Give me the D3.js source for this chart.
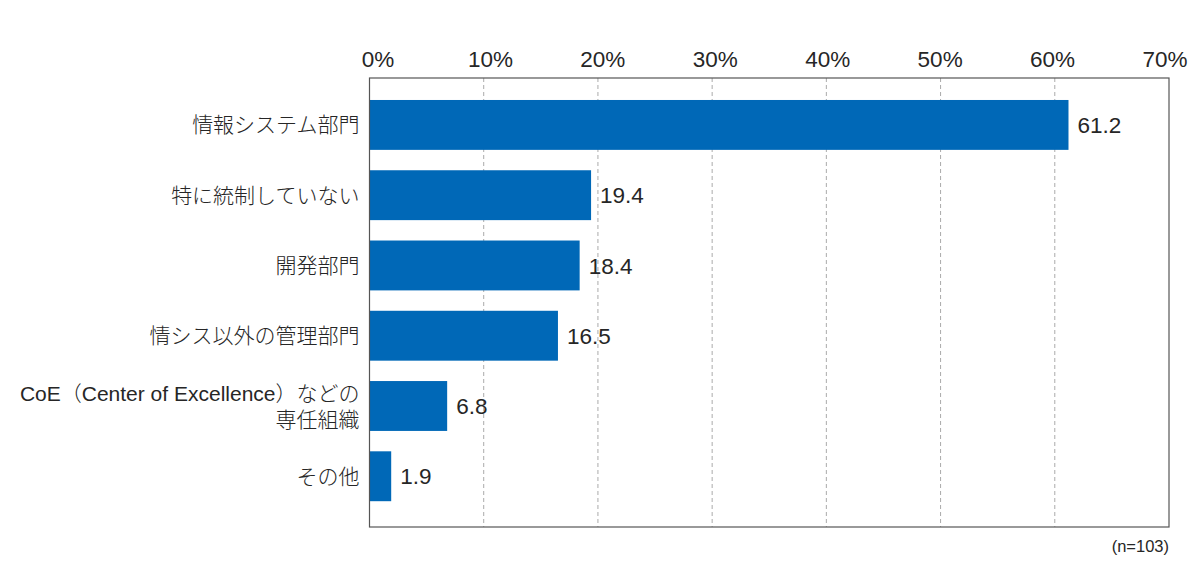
<!DOCTYPE html>
<html>
<head>
<meta charset="utf-8">
<script src="https://cdn.jsdelivr.net/npm/d3@7"></script>
<style>
  body { margin: 0; background: #fff; }
  text { font-family: "Liberation Sans", "Noto Sans CJK JP", sans-serif; font-weight: 300; fill: #262626; }
</style>
</head>
<body>
<div id="chart"></div>
<script>
// chart values
var categories = [
  ['情報システム部門'],
  ['特に統制していない'],
  ['開発部門'],
  ['情シス以外の管理部門'],
  ['CoE（Center of Excellence）などの', '専任組織'],
  ['その他']
]
var values = [61.2, 19.4, 18.4, 16.5, 6.8, 1.9]
var tickValues = [0, 10, 20, 30, 40, 50, 60, 70]
var note = '(n=103)'

var W = 1200, H = 571,
	margins = {top: 78, right: 31, bottom: 44, left: 369.5},
	width = W - margins.left - margins.right,
	height = H - margins.top - margins.bottom

var svg = d3.select('#chart').append('svg')
	.attr('width', W)
	.attr('height', H)

var g = svg.append('g')
	.attr('transform', 'translate(' + margins.left + ',' + margins.top + ')')

var x = d3.scaleLinear().domain([0, 70]).range([0, width])
var y = d3.scaleBand()
	.domain(d3.range(categories.length))
	.range([0, height])
	.paddingInner(0.29)
	.paddingOuter(0.34)
	.align(0.46)

// tick labels sit on a slightly narrower span than the grid
var xLabel = d3.scaleLinear().domain([0, 70]).range([8.5, width - 4])

// dashed grid
g.selectAll('.grid')
	.data(tickValues.slice(1, -1))
	.enter().append('line')
	.attr('x1', d => x(d)).attr('x2', d => x(d))
	.attr('y1', 0).attr('y2', height)
	.attr('stroke', '#aaa')
	.attr('stroke-width', 1)
	.attr('stroke-dasharray', '4,3')

// bars
g.selectAll('.bar')
	.data(values)
	.enter().append('rect')
	.attr('x', 0)
	.attr('y', (d, i) => y(i))
	.attr('width', d => x(d))
	.attr('height', y.bandwidth())
	.attr('fill', '#0068b7')

// value labels
g.selectAll('.val')
	.data(values)
	.enter().append('text')
	.attr('x', d => x(d) + 9)
	.attr('y', (d, i) => y(i) + y.bandwidth() / 2)
	.attr('dy', '0.36em')
	.attr('font-size', 22.5)
	.text(d => d.toFixed(1))

// frame
g.append('rect')
	.attr('width', width)
	.attr('height', height)
	.attr('fill', 'none')
	.attr('stroke', '#555')
	.attr('stroke-width', 1.2)

// top tick labels
g.selectAll('.tick-label')
	.data(tickValues)
	.enter().append('text')
	.attr('x', d => xLabel(d))
	.attr('y', -11)
	.attr('text-anchor', 'middle')
	.attr('font-size', 22.5)
	.text(d => d + '%')

// category labels
var cat = g.selectAll('.cat')
	.data(categories)
	.enter().append('text')
	.attr('text-anchor', 'end')
	.attr('font-size', 21)
	.attr('transform', (d, i) => 'translate(-10,' + (y(i) + y.bandwidth() / 2) + ')')

cat.selectAll('tspan')
	.data(d => d.map((t, j) => ({t: t, j: j, n: d.length})))
	.enter().append('tspan')
	.attr('x', 0)
	.attr('y', d => (d.j - (d.n - 1) / 2) * 26)
	.attr('dy', '0.36em')
	.text(d => d.t)

// sample size note
g.append('text')
	.attr('x', width)
	.attr('y', height + 25)
	.attr('text-anchor', 'end')
	.attr('font-size', 16.5)
	.text(note)
</script>
</body>
</html>
